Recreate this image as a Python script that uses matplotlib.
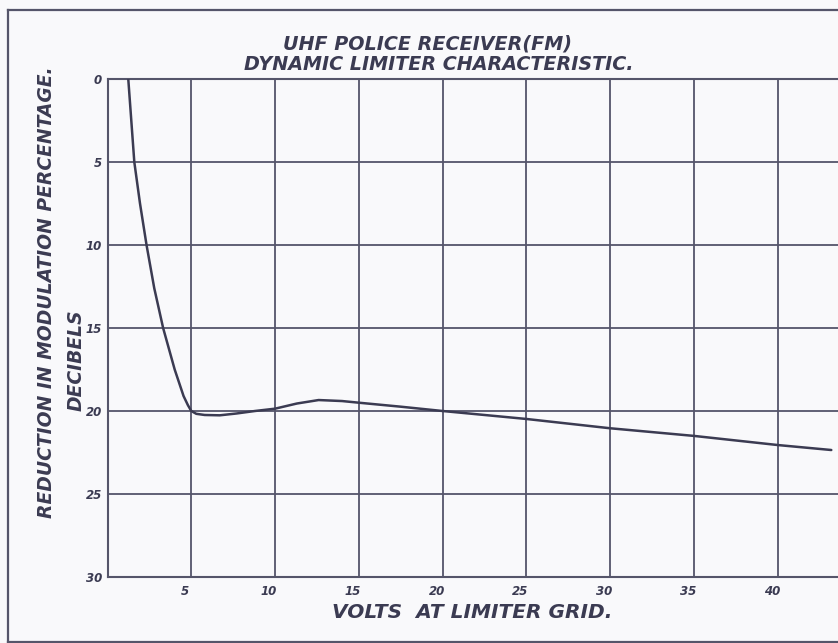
import matplotlib
matplotlib.use("Agg")
import matplotlib.pyplot as plt
from matplotlib.lines import Line2D
from matplotlib.transforms import ScaledTranslation

# ---- data ----
volts = [1.24, 1.6, 1.94, 2.33, 2.79, 3.32, 4.01, 4.54, 4.8, 5.0, 5.3, 5.8, 6.7,
         7.7, 8.8, 10, 11.3, 12.6, 14, 15, 17.5, 20, 25, 30, 35, 40, 43.2]
db = [0, 5, 7.5, 10, 12.6, 15, 17.5, 19.1, 19.65, 20.0, 20.17, 20.24, 20.26,
      20.15, 20.0, 19.86, 19.55, 19.34, 19.4, 19.5, 19.74, 20.0, 20.48, 21.04,
      21.5, 22.05, 22.35]
x_ticks = [5, 10, 15, 20, 25, 30, 35, 40]
y_ticks = [0, 5, 10, 15, 20, 25, 30]
title_lines = ["UHF POLICE RECEIVER(FM)", "DYNAMIC LIMITER CHARACTERISTIC."]
x_label = "VOLTS  AT LIMITER GRID."
y_label = "REDUCTION IN MODULATION PERCENTAGE."
y_label2 = "DECIBELS"

INK = "#3b3b52"
GRID = "#55556a"
BG = "#f9f9fb"

W, H = 838, 643
fig = plt.figure(figsize=(W / 100, H / 100), dpi=100, facecolor=BG)

def fx(px):
    return px / W

def fy(py):
    return 1 - py / H

ax = fig.add_axes([fx(107.5), fy(577), 1 - fx(107.5), fy(79) - fy(577)])
ax.set_facecolor(BG)
ax.set_xlim(0, 43.6)
ax.set_ylim(30, 0)

ax.set_xticks(x_ticks)
ax.set_yticks(y_ticks)
ax.set_xticklabels([str(v) for v in x_ticks])
ax.set_yticklabels([str(v) for v in y_ticks])
ax.tick_params(length=0, colors=INK, labelsize=8.5)
ax.tick_params(axis="x", pad=6)
ax.tick_params(axis="y", pad=4)
for lab in ax.get_xticklabels() + ax.get_yticklabels():
    lab.set_style("italic")
    lab.set_fontweight("bold")
for lab in ax.get_xticklabels():
    lab.set_transform(lab.get_transform() + ScaledTranslation(-0.06, 0, fig.dpi_scale_trans))

ax.grid(True, color=GRID, linewidth=1.3)
ax.set_axisbelow(True)
for side in ["left", "bottom", "top"]:
    ax.spines[side].set_color(GRID)
    ax.spines[side].set_linewidth(1.5)
ax.spines["right"].set_visible(False)

ax.plot(volts, db, color=INK, linewidth=1.8, solid_capstyle="round", zorder=3)

# outer drawing frame
for xs, ys in [((fx(7.5), fx(7.5)), (fy(10), fy(642))),
               ((fx(7.5), 1.0), (fy(10), fy(10))),
               ((fx(7.5), 1.0), (fy(642), fy(642)))]:
    fig.add_artist(Line2D(xs, ys, color=GRID, linewidth=1.6, transform=fig.transFigure))

txt = dict(color=INK, style="italic", fontweight="bold", family="DejaVu Sans")
fig.text(fx(427), fy(44), title_lines[0], ha="center", va="center", fontsize=13.8, **txt)
fig.text(fx(439), fy(64), title_lines[1], ha="center", va="center", fontsize=13.8, **txt)
fig.text(fx(472), fy(612), x_label, ha="center", va="center", fontsize=14.5, **txt)
fig.text(fx(47), fy(292), y_label, ha="center", va="center", rotation=90, fontsize=13.5, **txt)
fig.text(fx(76), fy(360), y_label2, ha="center", va="center", rotation=90, fontsize=13.5, **txt)

fig.savefig("out.png", dpi=100, facecolor=BG)
